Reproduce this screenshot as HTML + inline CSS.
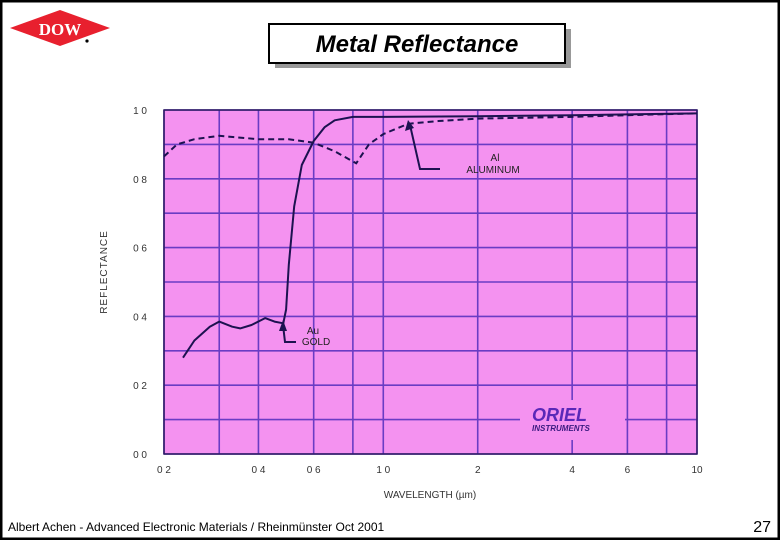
<!DOCTYPE html>
<html><head><meta charset="utf-8"><style>
body{margin:0;width:780px;height:540px;overflow:hidden;background:#fff;font-family:"Liberation Sans",sans-serif}
</style></head><body>
<svg width="780" height="540" xmlns="http://www.w3.org/2000/svg">
<rect x="1" y="1" width="778" height="538" fill="#fff" stroke="#000" stroke-width="3"/>
<g>
<polygon points="10,28 60,10 110,28 60,46" fill="#e8202e"/>
<text x="60" y="35" text-anchor="middle" font-family="Liberation Serif" font-weight="bold" font-size="17" fill="#fff">DOW</text>
<circle cx="87" cy="41" r="1.6" fill="#000"/>
</g>
<rect x="275" y="29" width="296" height="39" fill="#999"/>
<rect x="269" y="24" width="296" height="39" fill="#fff" stroke="#000" stroke-width="2"/>
<text x="417" y="52" text-anchor="middle" font-size="24" font-style="italic" font-weight="bold">Metal Reflectance</text>
<g id="chart"></g>
<text x="8" y="531" font-size="12">Albert Achen - Advanced Electronic Materials / Rheinmünster Oct 2001</text>
<text x="771" y="532" text-anchor="end" font-size="16">27</text>
</svg>
<script>
const xTicks=[0.2,0.4,0.6,1.0,2,4,6,10];
const xTickLabels=["0 2","0 4","0 6","1 0","2","4","6","10"];
const xGrid=[0.3,0.8,8];
const yTicks=[0,0.2,0.4,0.6,0.8,1.0];
const yTickLabels=["0 0","0 2","0 4","0 6","0 8","1 0"];
const yGrid=[0.1,0.3,0.5,0.7,0.9];
const goldX=[0.23,0.25,0.28,0.3,0.33,0.35,0.38,0.42,0.45,0.48,0.49,0.5,0.52,0.55,0.6,0.65,0.7,0.8,1,2,4,10];
const goldY=[0.28,0.33,0.37,0.385,0.37,0.365,0.375,0.395,0.385,0.38,0.42,0.55,0.72,0.84,0.91,0.95,0.97,0.98,0.98,0.982,0.985,0.99];
const alX=[0.2,0.22,0.25,0.3,0.4,0.5,0.6,0.7,0.82,0.9,1.0,1.2,1.5,2,4,6,10];
const alY=[0.865,0.9,0.915,0.925,0.915,0.915,0.905,0.88,0.845,0.9,0.93,0.96,0.968,0.975,0.98,0.985,0.99];
const L=164,R=697,T=110,B=454,NS="http://www.w3.org/2000/svg";
const xs=v=>L+(Math.log10(v)-Math.log10(0.2))/(Math.log10(10)-Math.log10(0.2))*(R-L);
const ys=v=>B-v*(B-T);
const g=document.getElementById('chart');
function mk(t,a){const e=document.createElementNS(NS,t);for(const k in a)e.setAttribute(k,a[k]);g.appendChild(e);return e;}
let e=mk('rect',{x:L,y:T,width:R-L,height:B-T,fill:'#f492f0'});


[...xTicks,...xGrid].forEach(v=>{const l=mk('line',{x1:xs(v),x2:xs(v),y1:T,y2:B,stroke:'#6a3cc4','stroke-width':1.6});

});
[...yTicks,...yGrid].forEach(v=>{const l=mk('line',{x1:L,x2:R,y1:ys(v),y2:ys(v),stroke:'#6a3cc4','stroke-width':1.6});

});
e=mk('rect',{x:L,y:T,width:R-L,height:B-T,fill:'none',stroke:'#2a1a60','stroke-width':1.5});


xTicks.forEach((v,i)=>{const t=mk('text',{x:xs(v),y:473,'text-anchor':'middle','font-size':10,fill:'#333'});t.textContent=xTickLabels[i];

});
yTicks.forEach((v,i)=>{const t=mk('text',{x:147,y:ys(v)+4,'text-anchor':'end','font-size':10,fill:'#333'});t.textContent=yTickLabels[i];

});
e=mk('text',{x:430,y:498,'text-anchor':'middle','font-size':10,fill:'#333'});e.textContent='WAVELENGTH (µm)';


e=mk('text',{x:0,y:0,'text-anchor':'middle','font-size':10,fill:'#333',transform:'translate(107,272) rotate(-90)','letter-spacing':'1'});e.textContent='REFLECTANCE';


function path(X,Y){return X.map((v,i)=>(i?'L':'M')+xs(v).toFixed(1)+','+ys(Y[i]).toFixed(1)).join(' ');}
e=mk('path',{d:path(goldX,goldY),fill:'none',stroke:'#1c1250','stroke-width':2,'stroke-linejoin':'round'});


e=mk('path',{d:path(alX,alY),fill:'none',stroke:'#1c1250','stroke-width':2,'stroke-dasharray':'6,4'});


e=mk('path',{d:'M440,169 L420,169 L410,125',fill:'none',stroke:'#1c1250','stroke-width':2});


e=mk('polygon',{points:'408,120 405,131 414,128',fill:'#1c1250'});


e=mk('text',{x:495,y:161,'text-anchor':'middle','font-size':10,fill:'#222'});e.textContent='Al';


e=mk('text',{x:493,y:173,'text-anchor':'middle','font-size':10,fill:'#222'});e.textContent='ALUMINUM';


e=mk('path',{d:'M296,342 L285,342 L283,325',fill:'none',stroke:'#1c1250','stroke-width':2});


e=mk('polygon',{points:'283,320 279,331 287,331',fill:'#1c1250'});


e=mk('text',{x:313,y:334,'text-anchor':'middle','font-size':10,fill:'#222'});e.textContent='Au';


e=mk('text',{x:316,y:345,'text-anchor':'middle','font-size':10,fill:'#222'});e.textContent='GOLD';


e=mk('rect',{x:520,y:400,width:105,height:40,fill:'#f492f0'});


e=mk('text',{x:532,y:421,'font-size':18,'font-weight':'bold','font-style':'italic',fill:'#5a28b8'});e.textContent='ORIEL';


e=mk('text',{x:532,y:431,'font-size':8,'font-weight':'bold','font-style':'italic',fill:'#3a1a80'});e.textContent='INSTRUMENTS';


</script>
</body></html>
